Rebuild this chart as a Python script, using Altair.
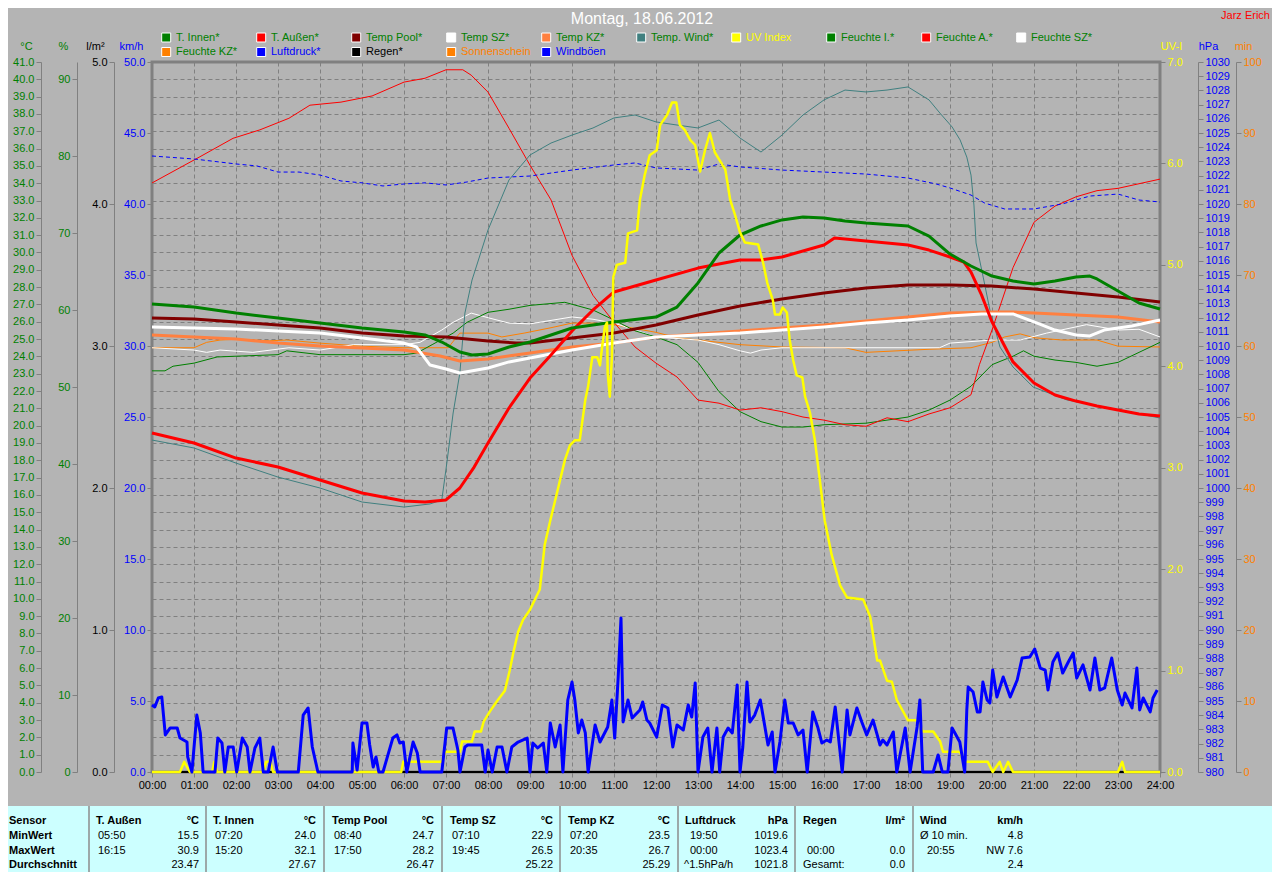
import altair as alt
import pandas as pd

FONT = "Liberation Sans"

# ---------------------------------------------------------------- data
# temperatures (°C), time in hours
t_innen_h = [0, 1, 2, 3, 4, 5, 6, 6.5, 6.9, 7.33, 7.62, 8, 8.5, 9, 10, 11, 12, 12.5, 13, 13.5, 14, 14.5, 15, 15.5, 16, 16.5, 17, 18, 18.5, 19, 19.5, 20, 20.5, 21, 21.5, 22, 22.33, 22.5, 23, 23.5, 24]
t_innen = [27.03, 26.85, 26.5, 26.22, 25.93, 25.64, 25.41, 25.24, 24.83, 24.25, 24.08, 24.14, 24.54, 24.83, 25.64, 25.99, 26.27, 26.85, 28.24, 29.97, 31.01, 31.53, 31.88, 32.05, 31.99, 31.82, 31.7, 31.53, 30.95, 29.91, 29.22, 28.64, 28.35, 28.18, 28.35, 28.58, 28.64, 28.47, 27.78, 27.08, 26.74]

t_aussen_h = [0, 1, 2, 3, 4, 5, 6, 6.5, 7, 7.33, 7.67, 8, 8.5, 9, 9.5, 10, 10.5, 11, 12, 13, 14, 14.5, 15, 16, 16.25, 17, 18, 18.5, 19, 19.33, 19.5, 19.75, 20, 20.25, 20.5, 21, 21.5, 22, 22.5, 23, 23.5, 24]
t_aussen = [19.58, 19.0, 18.13, 17.61, 16.86, 16.11, 15.65, 15.59, 15.71, 16.4, 17.61, 19.0, 21.02, 22.75, 24.08, 25.47, 26.68, 27.72, 28.41, 29.1, 29.57, 29.57, 29.74, 30.43, 30.84, 30.66, 30.43, 30.14, 29.74, 29.45, 28.87, 27.55, 25.99, 24.83, 23.68, 22.46, 21.77, 21.42, 21.14, 20.9, 20.67, 20.56]

pool_h = [0, 1, 2, 3, 4, 5, 6, 7, 8, 8.67, 9, 10, 11, 12, 13, 14, 15, 16, 17, 18, 19, 20, 21, 22, 23, 24]
pool = [26.22, 26.16, 25.99, 25.81, 25.64, 25.35, 25.18, 25.12, 24.89, 24.77, 24.77, 25.06, 25.35, 25.81, 26.39, 26.91, 27.31, 27.66, 27.95, 28.12, 28.12, 28.06, 27.89, 27.66, 27.43, 27.14]

sz_h = [0, 1, 2, 3, 4, 5, 6, 6.3, 6.62, 7, 7.33, 8, 8.5, 9, 10, 11, 12, 13, 14, 15, 16, 17, 18, 19, 19.75, 20.5, 21, 21.5, 22, 22.33, 22.67, 23.33, 24]
sz = [25.7, 25.64, 25.58, 25.47, 25.35, 25.06, 24.77, 24.54, 23.5, 23.27, 23.04, 23.33, 23.68, 23.91, 24.37, 24.77, 25.12, 25.24, 25.35, 25.52, 25.7, 25.93, 26.1, 26.33, 26.45, 26.45, 25.99, 25.52, 25.24, 25.18, 25.52, 25.76, 26.1]

kz_h = [0, 1, 2, 3, 4, 5, 6, 6.86, 7.33, 8, 9, 10, 11, 12, 13, 14, 15, 16, 17, 18, 19, 20, 20.5, 21, 22, 23, 24]
kz = [25.24, 25.12, 25.0, 24.77, 24.6, 24.48, 24.37, 24.02, 23.73, 23.85, 24.2, 24.54, 24.77, 25.12, 25.29, 25.47, 25.64, 25.81, 26.04, 26.27, 26.51, 26.56, 26.56, 26.51, 26.39, 26.27, 25.99]

twind_h = [0, 1, 2, 3, 4, 5, 6, 6.62, 6.9, 7.02, 7.17, 7.33, 7.45, 7.62, 8, 8.5, 9, 9.5, 10, 10.5, 11, 11.5, 12, 12.5, 13, 13.5, 14, 14.5, 15, 15.5, 16, 16.5, 17, 17.5, 18, 18.5, 18.76, 19.05, 19.24, 19.4, 19.5, 19.57, 19.62, 19.79, 19.95, 20.19, 20.5, 20.98, 21.79, 22.81, 24]
twind = [19.17, 18.71, 17.84, 17.03, 16.4, 15.59, 15.3, 15.48, 15.71, 17.84, 20.73, 23.04, 26.5, 28.41, 31.3, 34.19, 35.63, 36.32, 36.78, 37.19, 37.77, 37.94, 37.54, 37.36, 37.19, 37.65, 36.61, 35.8, 36.78, 37.94, 38.81, 39.38, 39.27, 39.38, 39.56, 38.81, 38.05, 37.25, 36.5, 35.51, 34.47, 32.74, 30.55, 28.58, 26.68, 24.54, 23.39, 22.23, 21.48, 21.02, 20.44]

# humidity (%)
f_innen_h = [0, 0.31, 0.5, 1, 1.55, 2, 3, 3.21, 4, 6, 6.3, 6.67, 7.17, 7.5, 8, 8.5, 9, 9.83, 10.5, 11, 11.5, 12, 12.5, 13, 13.5, 14, 14.5, 15, 15.5, 16, 17, 18, 18.5, 19, 19.5, 20, 20.5, 20.75, 21, 21.5, 22, 22.5, 23, 23.5, 24]
f_innen = [52.1, 52.1, 52.7, 53.1, 53.9, 54.0, 54.2, 54.7, 54.2, 54.2, 54.4, 55.5, 57.0, 58.4, 59.7, 60.1, 60.6, 61.0, 60.0, 58.7, 57.3, 56.5, 55.5, 53.2, 49.4, 46.8, 45.5, 44.8, 44.8, 45.1, 45.3, 46.1, 47.0, 48.3, 50.1, 52.9, 54.0, 54.7, 54.0, 53.5, 53.2, 52.7, 53.2, 54.5, 55.8]

f_aussen_h = [0, 1.14, 1.93, 2.57, 3.26, 3.76, 4.5, 5.24, 6, 6.5, 7, 7.4, 7.6, 8, 8.5, 9, 9.5, 10, 10.5, 11, 11.5, 12, 12.5, 13, 13.5, 14, 14.5, 15, 15.5, 16, 16.5, 17, 17.5, 18, 18.5, 19, 19.5, 19.7, 20, 20.5, 21, 21.5, 22, 22.5, 23, 23.5, 24]
f_aussen = [76.5, 79.9, 82.3, 83.4, 84.9, 86.6, 87.0, 87.8, 89.6, 90.1, 91.2, 91.2, 90.5, 88.3, 83.6, 78.8, 74.3, 67.1, 61.9, 58.4, 55.2, 53.1, 51.3, 48.3, 47.9, 47.0, 47.3, 46.8, 46.1, 45.7, 45.1, 44.9, 46.0, 45.5, 46.5, 47.3, 49.0, 52.9, 57.4, 65.5, 71.4, 73.5, 74.7, 75.5, 75.8, 76.4, 77.0]

f_sz_h = [0, 1, 1.3, 1.62, 2.4, 3.26, 4, 4.8, 6, 6.38, 6.9, 7.17, 7.6, 8, 8.5, 9, 10, 10.5, 11, 12, 13, 13.5, 14, 14.25, 14.5, 15, 18.75, 19, 20, 20.67, 21.3, 22.25, 23, 23.5, 24]
f_sz = [55.1, 54.8, 54.5, 54.8, 54.5, 55.1, 54.8, 55.5, 55.5, 55.8, 57.4, 58.4, 59.6, 59.0, 58.3, 58.2, 59.1, 58.8, 58.3, 56.5, 56.1, 55.5, 54.7, 54.4, 54.8, 55.1, 55.1, 55.7, 56.1, 56.1, 57.0, 58.1, 57.4, 57.5, 56.5]

f_kz_h = [0, 1, 1.3, 1.62, 2, 2.8, 3.21, 4, 5, 6, 7.05, 7.33, 8, 8.33, 8.86, 9.5, 10, 10.5, 11, 12, 12.5, 13, 14, 15, 16.5, 17, 18.5, 19.5, 20, 20.3, 20.67, 21, 21.67, 22.5, 23, 24]
f_kz = [55.1, 55.1, 55.8, 56.1, 56.2, 56.0, 56.1, 55.7, 55.3, 55.1, 55.1, 57.0, 57.0, 56.5, 57.0, 57.7, 58.3, 58.3, 58.1, 57.1, 56.4, 56.1, 55.5, 55.2, 55.1, 54.5, 54.9, 55.1, 55.8, 56.5, 56.9, 56.4, 56.1, 56.1, 55.3, 55.2]

# air pressure (hPa)
druck_h = [0, 1, 2, 2.5, 3, 3.5, 4, 4.5, 5, 5.5, 6, 6.5, 7, 7.5, 8, 9, 10, 11, 11.5, 12, 13, 13.5, 14, 15, 16, 17, 18, 18.67, 19, 19.5, 19.83, 20.3, 21, 21.67, 22.33, 23, 23.5, 24]
druck = [1023.38, 1023.17, 1022.82, 1022.68, 1022.25, 1022.25, 1022.04, 1021.62, 1021.49, 1021.27, 1021.41, 1021.49, 1021.34, 1021.55, 1021.83, 1021.97, 1022.39, 1022.75, 1022.89, 1022.54, 1022.39, 1022.82, 1022.61, 1022.39, 1022.25, 1022.11, 1021.83, 1021.41, 1021.13, 1020.63, 1020.06, 1019.65, 1019.65, 1020.0, 1020.56, 1020.70, 1020.28, 1020.14]

# UV index, time in minutes
uv_min = [0, 40, 46, 54, 86, 89, 93, 159, 163, 169, 173, 356, 359, 414, 419, 440, 443, 457, 461, 470, 474, 483, 493, 504, 511, 516, 523, 530, 540, 547, 554, 561, 569, 576, 583, 590, 597, 604, 611, 619, 623, 629, 636, 640, 643, 647, 650, 651, 654, 657, 659, 664, 676, 680, 693, 697, 704, 711, 721, 726, 736, 743, 749, 754, 761, 769, 776, 783, 790, 797, 804, 811, 819, 826, 833, 840, 847, 866, 873, 879, 887, 890, 897, 901, 907, 911, 916, 921, 929, 933, 940, 947, 954, 961, 971, 983, 993, 1016, 1026, 1036, 1040, 1050, 1057, 1064, 1080, 1094, 1101, 1116, 1126, 1130, 1154, 1161, 1194, 1201, 1211, 1216, 1223, 1230, 1380, 1386, 1390, 1440]
uv = [0, 0, 0.1, 0, 0, 0.1, 0, 0, 0.1, 0.1, 0, 0, 0.1, 0.1, 0.2, 0.2, 0.3, 0.3, 0.4, 0.4, 0.5, 0.6, 0.7, 0.8, 1.0, 1.17, 1.38, 1.5, 1.6, 1.7, 1.8, 2.24, 2.48, 2.68, 2.88, 3.08, 3.22, 3.27, 3.27, 3.67, 3.8, 4.09, 4.09, 4.01, 4.19, 4.39, 4.43, 3.93, 3.7, 4.09, 4.88, 5.0, 5.02, 5.31, 5.34, 5.64, 5.89, 6.08, 6.13, 6.38, 6.48, 6.6, 6.6, 6.38, 6.33, 6.23, 6.18, 5.92, 6.13, 6.3, 6.11, 6.03, 5.94, 5.64, 5.49, 5.32, 5.22, 5.2, 5.02, 4.82, 4.65, 4.51, 4.51, 4.58, 4.53, 4.26, 4.06, 3.91, 3.89, 3.7, 3.54, 3.27, 2.88, 2.48, 2.14, 1.84, 1.72, 1.7, 1.53, 1.1, 1.1, 0.9, 0.89, 0.71, 0.51, 0.51, 0.4, 0.4, 0.3, 0.2, 0.2, 0.1, 0.1, 0, 0.1, 0, 0.1, 0, 0, 0.1, 0, 0]

# wind gusts (minute, km/h)
windboeen = [(0, 4.72), (4, 4.58), (9, 5.21), (14, 5.28), (19, 2.61), (26, 3.10), (36, 3.10), (40, 2.39), (50, 2.11), (51, 1.06), (57, 0), (64, 4.01), (69, 2.75), (73, 0), (90, 0), (94, 2.39), (100, 2.04), (104, 0), (109, 1.76), (116, 1.76), (121, 0), (129, 2.39), (136, 1.76), (140, 0), (147, 1.69), (154, 2.39), (159, 0), (166, 0), (173, 1.76), (179, 0), (209, 0), (216, 4.01), (223, 4.51), (229, 1.76), (237, 0), (286, 0), (287, 2.04), (293, 0.14), (300, 3.45), (307, 3.45), (311, 1.90), (316, 0.35), (320, 1.06), (324, 0), (330, 0), (344, 2.39), (350, 2.61), (354, 2.04), (359, 2.11), (364, 0), (373, 2.11), (379, 1.34), (383, 0), (414, 0), (421, 3.10), (430, 3.10), (437, 1.55), (440, 0), (447, 1.76), (451, 1.90), (471, 1.90), (476, 0), (480, 1.55), (486, 0), (493, 1.76), (500, 1.76), (507, 0), (514, 1.76), (523, 2.11), (536, 2.39), (540, 0), (544, 2.04), (551, 1.69), (559, 2.04), (564, 0), (569, 3.45), (576, 1.76), (583, 3.31), (587, 0), (594, 5.07), (600, 6.34), (604, 5.07), (609, 2.75), (614, 3.66), (619, 2.75), (623, 0), (633, 3.31), (640, 2.11), (651, 3.17), (657, 5.07), (661, 2.39), (666, 6.69), (670, 10.85), (673, 3.52), (680, 5.07), (686, 3.80), (697, 4.37), (701, 4.93), (707, 3.66), (711, 3.45), (721, 2.46), (729, 4.72), (737, 4.51), (744, 1.76), (750, 3.31), (759, 2.96), (766, 4.72), (771, 3.87), (776, 6.27), (780, 0), (787, 2.46), (794, 3.10), (800, 0), (807, 3.10), (811, 0), (816, 2.46), (823, 3.10), (829, 2.75), (836, 6.13), (840, 0), (844, 1.76), (850, 6.34), (854, 3.52), (861, 4.01), (869, 5.07), (880, 1.90), (886, 2.82), (890, 0), (897, 2.11), (904, 5.07), (909, 3.45), (916, 3.45), (923, 2.61), (930, 2.96), (936, 0), (944, 4.23), (951, 3.17), (957, 2.04), (964, 2.25), (969, 2.11), (976, 4.58), (983, 1.41), (986, 0), (993, 4.37), (997, 2.61), (1007, 4.51), (1014, 3.52), (1021, 2.61), (1030, 3.66), (1036, 2.61), (1040, 1.90), (1044, 2.25), (1050, 1.90), (1059, 2.82), (1064, 0), (1076, 3.10), (1083, 0), (1093, 3.17), (1097, 5.07), (1101, 0), (1116, 0), (1123, 1.20), (1129, 0), (1137, 0), (1143, 3.10), (1147, 2.75), (1154, 2.11), (1161, 0), (1164, 4.37), (1166, 5.99), (1173, 5.63), (1179, 4.23), (1183, 4.23), (1187, 6.34), (1193, 5.07), (1197, 4.86), (1201, 7.18), (1207, 5.28), (1216, 6.69), (1226, 5.28), (1236, 6.48), (1243, 8.03), (1254, 8.10), (1261, 8.66), (1269, 7.32), (1276, 7.18), (1280, 5.77), (1287, 7.75), (1294, 8.38), (1301, 6.97), (1309, 7.75), (1316, 8.38), (1321, 6.62), (1330, 7.54), (1340, 5.77), (1347, 8.03), (1354, 5.77), (1361, 5.92), (1371, 8.03), (1379, 5.77), (1386, 4.72), (1390, 5.56), (1400, 4.51), (1407, 7.32), (1411, 4.37), (1416, 5.21), (1426, 4.23), (1430, 5.21), (1436, 5.77)]

regen_h = [0, 24]
regen = [0.0, 0.0]
sonne_h = [0, 24]
sonne = [0, 0]

# legend
legend_row1 = ["T. Innen*", "T. Außen*", "Temp Pool*", "Temp SZ*", "Temp KZ*", "Temp. Wind*", "UV Index", "Feuchte I.*", "Feuchte A.*", "Feuchte SZ*"]
legend_row2 = ["Feuchte KZ*", "Luftdruck*", "Regen*", "Sonnenschein", "Windböen"]

# statistics table
tbl_sensors = ["T. Außen", "T. Innen", "Temp Pool", "Temp SZ", "Temp KZ"]
tbl_min_time = ["05:50", "07:20", "08:40", "07:10", "07:20"]
tbl_min_val = ["15.5", "24.0", "24.7", "22.9", "23.5"]
tbl_max_time = ["16:15", "15:20", "17:50", "19:45", "20:35"]
tbl_max_val = ["30.9", "32.1", "28.2", "26.5", "26.7"]
tbl_avg = ["23.47", "27.67", "26.47", "25.22", "25.29"]
tbl_druck = ["19:50", "1019.6", "00:00", "1023.4", "^1.5hPa/h", "1021.8"]
tbl_regen = ["00:00", "0.0", "Gesamt:", "0.0"]
tbl_wind = ["Ø 10 min.", "4.8", "20:55", "NW 7.6", "2.4"]

title_text = "Montag, 18.06.2012"
author_text = "Jarz Erich"

# ---------------------------------------------------------------- styling / layout
W, H = 1008, 710
OX, OY = 152, 62            # page position of the plot origin
GRAY = "#808080"
GREEN, RED, MAROON, WHITE = "#008000", "#FF0000", "#800000", "#FFFFFF"
CORAL, TEAL, YELLOW, ORANGE, BLUE, BLACK = "#FF8040", "#408080", "#FFFF00", "#FF8000", "#0000FF", "#000000"


def frame(name, hours, values):
    return pd.DataFrame({"h": hours, "v": values, "s": name})


def X(axis=None):
    return alt.X("h:Q", scale=alt.Scale(domain=[0, 24], nice=False, zero=False), axis=axis)


def yaxis(orient, offset, values, fmt, color, title, tx, grid=False):
    kw = dict(orient=orient, offset=offset, values=values, format=fmt, labelColor=color,
              title=title, titleColor=color, titleX=tx, titleY=-16, titleAngle=0,
              titleAlign="center", titleBaseline="middle", titleFontWeight="normal",
              titleFontSize=11, titleFont=FONT, grid=grid, domainColor=GRAY, tickColor=GRAY,
              tickSize=5, labelPadding=2, labelFontSize=11, labelFont=FONT,
              labelOverlap=False, labelFlush=False)
    if grid:
        kw.update(gridColor=GRAY, gridDash=[4, 3], gridWidth=1)
    return alt.Axis(**kw)


x_axis = alt.Axis(orient="bottom", values=list(range(25)),
                  labelExpr="(datum.value < 10 ? '0' : '') + datum.value + ':00'",
                  grid=True, gridColor=GRAY, gridDash=[4, 3], gridWidth=1, domain=False,
                  tickColor=GRAY, tickSize=5, labelColor=BLACK, labelFont=FONT, labelFontSize=11,
                  labelFlush=False, labelPadding=2, title=None, labelOverlap=False)


def multi_line(series, yscale, axis, main_x=False):
    df = pd.concat([frame(n, h, v) for n, h, v, c, w in series], ignore_index=True)
    df["w"] = df["s"].map({n: w for n, h, v, c, w in series})
    return alt.Chart(df).mark_line(strokeJoin="round").encode(
        x=X(x_axis if main_x else None),
        y=alt.Y("v:Q", scale=yscale, axis=axis),
        color=alt.Color("s:N", scale=alt.Scale(domain=[s[0] for s in series], range=[s[3] for s in series]), legend=None),
        strokeWidth=alt.StrokeWidth("w:Q", scale=None, legend=None),
    )


temp_layer = multi_line(
    [("Temp. Wind*", twind_h, twind, TEAL, 1),
     ("Temp KZ*", kz_h, kz, CORAL, 3),
     ("Temp SZ*", sz_h, sz, WHITE, 3),
     ("Temp Pool*", pool_h, pool, MAROON, 3),
     ("T. Außen*", t_aussen_h, t_aussen, RED, 3),
     ("T. Innen*", t_innen_h, t_innen, GREEN, 3)],
    alt.Scale(domain=[0, 41], nice=False, zero=False),
    yaxis("left", 111, list(range(42)), ".1f", GREEN, "°C", -15, grid=True), main_x=True)

hum_layer = multi_line(
    [("Feuchte KZ*", f_kz_h, f_kz, ORANGE, 1),
     ("Feuchte SZ*", f_sz_h, f_sz, WHITE, 1),
     ("Feuchte I.*", f_innen_h, f_innen, GREEN, 1),
     ("Feuchte A.*", f_aussen_h, f_aussen, RED, 1)],
    alt.Scale(domain=[0, 92.21], nice=False, zero=False),
    yaxis("left", 75, list(range(0, 91, 10)), "d", GREEN, "%", -14))

rain_layer = alt.Chart(frame("Regen*", regen_h, regen)).mark_line(color=BLACK, strokeWidth=2).encode(
    x=X(), y=alt.Y("v:Q", scale=alt.Scale(domain=[0, 5], nice=False), axis=yaxis("left", 38, [0, 1, 2, 3, 4, 5], ".1f", BLACK, "l/m²", -19)))

wind_df = pd.DataFrame({"h": [m / 60 for m, v in windboeen], "v": [v for m, v in windboeen]})
wind_layer = alt.Chart(wind_df).mark_line(color=BLUE, strokeWidth=3, strokeJoin="round").encode(
    x=X(), y=alt.Y("v:Q", scale=alt.Scale(domain=[0, 50], nice=False), axis=yaxis("left", 0, list(range(0, 51, 5)), ".1f", BLUE, "km/h", -21)))

uv_df = pd.DataFrame({"h": [m / 60 for m in uv_min], "v": uv})
uv_layer = alt.Chart(uv_df).mark_line(color=YELLOW, strokeWidth=2.5, strokeJoin="round").encode(
    x=X(), y=alt.Y("v:Q", scale=alt.Scale(domain=[0, 7], nice=False), axis=yaxis("right", 0, list(range(8)), ".1f", YELLOW, "UV-I", 11)))

press_layer = alt.Chart(frame("Luftdruck*", druck_h, druck)).mark_line(color=BLUE, strokeWidth=1, strokeDash=[4, 3]).encode(
    x=X(), y=alt.Y("v:Q", scale=alt.Scale(domain=[980, 1030], nice=False, zero=False), axis=yaxis("right", 38, list(range(980, 1031)), "d", BLUE, "hPa", 10)))

sun_layer = alt.Chart(frame("Sonnenschein", sonne_h, sonne)).mark_line(color=ORANGE, strokeWidth=2).encode(
    x=X(), y=alt.Y("v:Q", scale=alt.Scale(domain=[0, 100], nice=False), axis=yaxis("right", 76, list(range(0, 101, 10)), "d", ORANGE, "min", 7)))

# ---- custom legend above the plot
leg_sq_colors = [GREEN, RED, MAROON, WHITE, CORAL, TEAL, YELLOW, GREEN, RED, WHITE, ORANGE, BLUE, BLACK, ORANGE, BLUE]
leg_txt_colors = [GREEN] * 6 + [YELLOW] + [GREEN] * 3 + [GREEN, BLUE, BLACK, ORANGE, BLUE]
leg_names = legend_row1 + legend_row2
leg_cols = list(range(10)) + list(range(5))
leg_rows = [0] * 10 + [1] * 5
leg_df = pd.DataFrame({
    "name": leg_names,
    "sc": leg_sq_colors,
    "tc": leg_txt_colors,
    "sx": [166.2 - OX + 95 * c for c in leg_cols],
    "tx": [176 - OX + 95 * c for c in leg_cols],
    "y": [(37.5 if r == 0 else 52) - OY for r in leg_rows],
})
leg_sq = alt.Chart(leg_df).mark_square(size=81, filled=True, opacity=1, stroke=WHITE, strokeWidth=1).encode(
    x=alt.X("sx:Q", scale=None, axis=None), y=alt.Y("y:Q", scale=None, axis=None),
    color=alt.Color("sc:N", scale=None, legend=None))
leg_txt = alt.Chart(leg_df).mark_text(align="left", baseline="middle", font=FONT, fontSize=11).encode(
    x=alt.X("tx:Q", scale=None, axis=None), y=alt.Y("y:Q", scale=None, axis=None),
    text="name:N", color=alt.Color("tc:N", scale=None, legend=None))

one = pd.DataFrame({"t": [title_text], "a": [author_text]})
title_layer = alt.Chart(one).mark_text(align="center", baseline="middle", font=FONT, fontSize=16, color=WHITE).encode(
    x=alt.value(642 - OX), y=alt.value(19 - OY), text="t:N")
author_layer = alt.Chart(one).mark_text(align="right", baseline="middle", font=FONT, fontSize=11, color=RED).encode(
    x=alt.value(1270 - OX), y=alt.value(16 - OY), text="a:N")

# ---- statistics table below the plot
TB_TOP, TB_BOT = 806, 872
row_y = [821, 836, 851, 865]
table_bg = alt.Chart(one).mark_rect(color="#CCFFFF").encode(
    x=alt.value(8 - OX), x2=alt.value(1272 - OX), y=alt.value(TB_TOP - OY), y2=alt.value(TB_BOT - OY))
sep_df = pd.DataFrame({"sx": [x - OX for x in [89, 206, 324, 442, 560, 678, 795, 913]]})
table_rules = alt.Chart(sep_df).mark_rule(color="#8C8C8C", strokeWidth=1.5).encode(
    x=alt.X("sx:Q", scale=None, axis=None), y=alt.value(TB_TOP - OY), y2=alt.value(TB_BOT - OY))

cells = [("Sensor", 9, 0, "left", True), ("MinWert", 9, 1, "left", True),
         ("MaxWert", 9, 2, "left", True), ("Durchschnitt", 9, 3, "left", True)]
col_left = [96, 213, 332, 450, 568]
col_right = [199, 316, 434, 553, 670]
for i, name in enumerate(tbl_sensors):
    L, R = col_left[i], col_right[i]
    cells += [(name, L, 0, "left", True), ("°C", R, 0, "right", True),
              (tbl_min_time[i], L + 2, 1, "left", False), (tbl_min_val[i], R, 1, "right", False),
              (tbl_max_time[i], L + 2, 2, "left", False), (tbl_max_val[i], R, 2, "right", False),
              (tbl_avg[i], R, 3, "right", False)]
cells += [("Luftdruck", 685, 0, "left", True), ("hPa", 788, 0, "right", True),
          (tbl_druck[0], 690, 1, "left", False), (tbl_druck[1], 788, 1, "right", False),
          (tbl_druck[2], 690, 2, "left", False), (tbl_druck[3], 788, 2, "right", False),
          (tbl_druck[4], 684, 3, "left", False), (tbl_druck[5], 788, 3, "right", False)]
cells += [("Regen", 803, 0, "left", True), ("l/m²", 905, 0, "right", True),
          (tbl_regen[0], 807, 2, "left", False), (tbl_regen[1], 905, 2, "right", False),
          (tbl_regen[2], 803, 3, "left", False), (tbl_regen[3], 905, 3, "right", False)]
cells += [("Wind", 920, 0, "left", True), ("km/h", 1023, 0, "right", True),
          (tbl_wind[0], 920, 1, "left", False), (tbl_wind[1], 1023, 1, "right", False),
          (tbl_wind[2], 927, 2, "left", False), (tbl_wind[3], 1023, 2, "right", False),
          (tbl_wind[4], 1023, 3, "right", False)]
cell_df = pd.DataFrame({
    "text": [c[0] for c in cells],
    "px": [c[1] - OX for c in cells],
    "py": [row_y[c[2]] - OY for c in cells],
    "align": [c[3] for c in cells],
    "bold": [c[4] for c in cells],
})
table_text = []
for align in ["left", "right"]:
    for bold in [True, False]:
        sub = cell_df[(cell_df["align"] == align) & (cell_df["bold"] == bold)]
        if len(sub) == 0:
            continue
        table_text.append(
            alt.Chart(sub).mark_text(align=align, baseline="middle", font=FONT, fontSize=11,
                                     fontWeight="bold" if bold else "normal", color=BLACK).encode(
                x=alt.X("px:Q", scale=None, axis=None), y=alt.Y("py:Q", scale=None, axis=None), text="text:N"))

chart = alt.layer(
    hum_layer, temp_layer, press_layer, sun_layer, rain_layer, uv_layer, wind_layer,
    table_bg, table_rules, *table_text, leg_sq, leg_txt, title_layer, author_layer,
).resolve_scale(
    x="independent", y="independent", color="independent", strokeWidth="independent"
).properties(
    width=W, height=H,
    autosize=alt.AutoSizeParams(type="none"),
    padding={"left": 144, "top": 54, "right": 112, "bottom": 100},
    background="#B4B4B4",
).configure_view(stroke=GRAY, strokeWidth=3)

chart.save("out.html", embed_options={"renderer": "svg", "actions": False})
